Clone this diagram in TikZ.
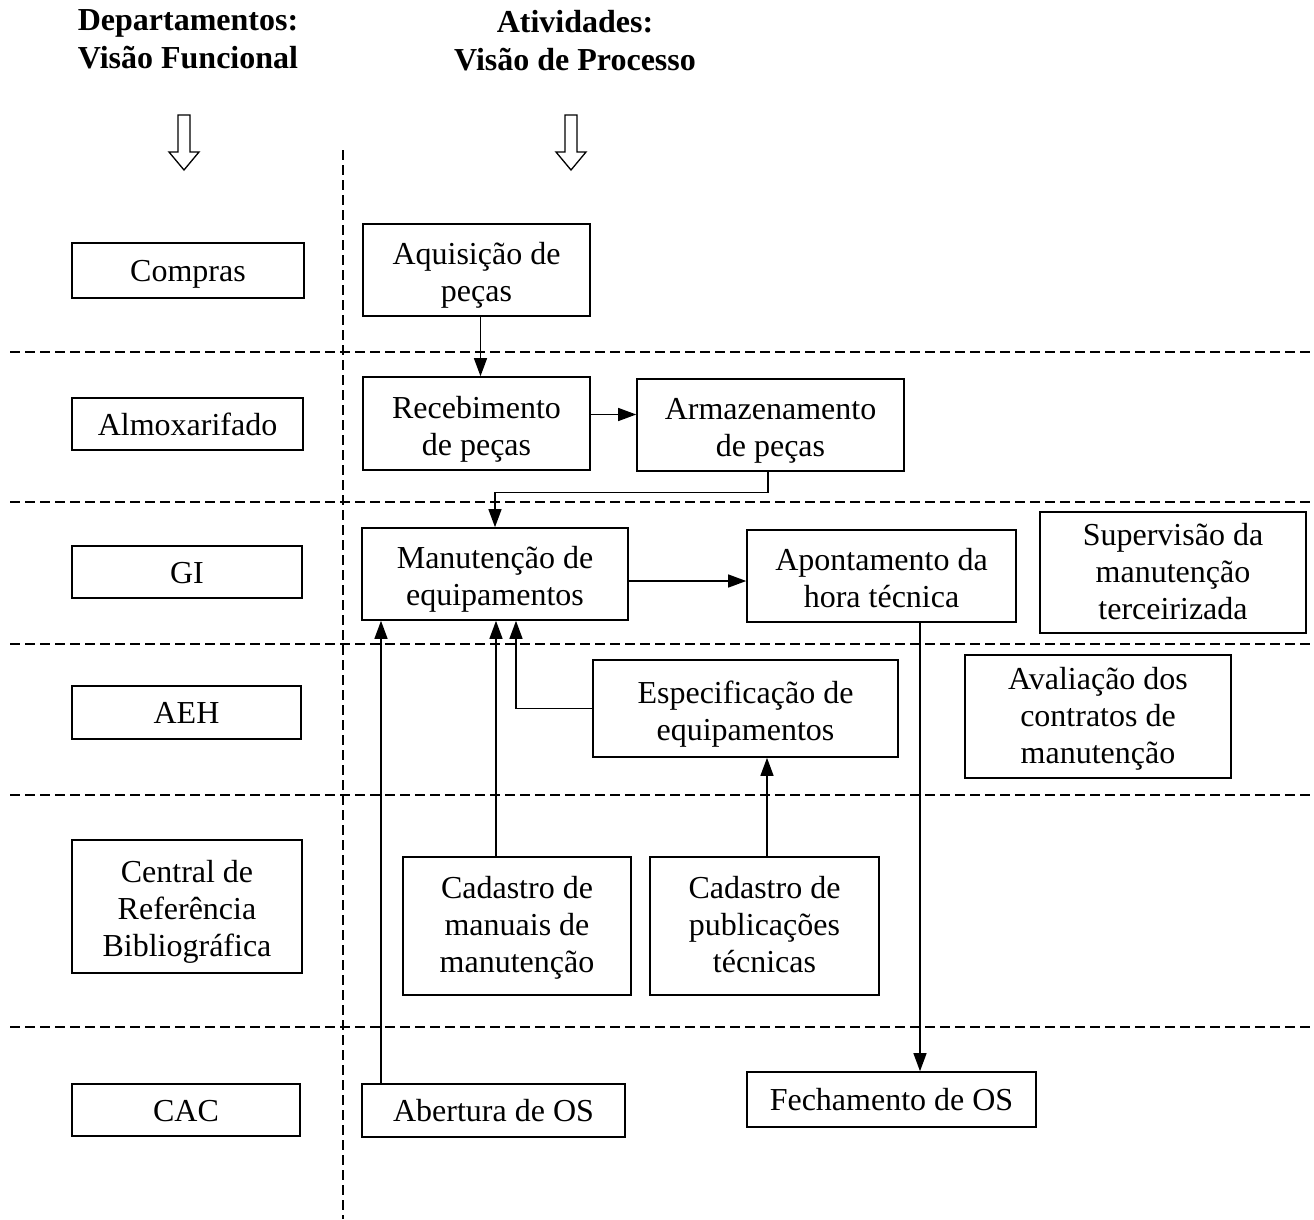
\documentclass[tikz,border=0pt]{standalone}
\usepackage{fontspec}
\setmainfont{Liberation Serif}
\usetikzlibrary{arrows.meta}
% invisible struts that fix the first line's height and the last line's depth
\newcommand\tstr[1][30pt]{\rule{0pt}{#1}}
\newcommand\bstr{\rule[-8pt]{0pt}{8pt}}
\begin{document}
\begin{tikzpicture}[x=1pt,y=-1pt,
  txt/.style={font=\fontsize{32}{37}\selectfont, align=center, inner sep=0pt},
  box/.style={txt, draw, line width=1.6pt},
  head/.style={font=\fontsize{32}{38}\selectfont\bfseries, align=center, inner sep=0pt},
  lane/.style={line width=1.3pt, dash pattern=on 10pt off 5pt},
  arr/.style={line width=1.3pt, -{Triangle[length=18pt,width=13pt]}},
  hollow/.style={line width=1.3pt, fill=white}]
\useasboundingbox (0,0) rectangle (1314,1219);

% column headings
\node[head] (hdep) at (188,39) {Departamentos:\\Visão Funcional};
\node[head] (hati) at (575,41) {Atividades:\\Visão de Processo};

% hollow arrows under the headings
\draw[hollow] (178,115) -- (190,115) -- (190,152) -- (199,152) -- (184,170)
  -- (169,152) -- (178,152) -- cycle;
\draw[hollow] (565,115) -- (577,115) -- (577,152) -- (586,152) -- (571,170)
  -- (556,152) -- (565,152) -- cycle;

% lane separators
\draw[lane] (343,150) -- (343,1219);
\foreach \y in {352,502,644,795,1027}
  \draw[lane] (10,\y) -- (1310,\y);

% departments
\node[box, minimum width=232, minimum height=55] (compras) at (188,270.5) {\tstr Compras\bstr};
\node[box, minimum width=231, minimum height=52] (almox) at (187.5,424) {\tstr Almoxarifado\bstr};
\node[box, minimum width=230, minimum height=52] (gi) at (187,572) {\tstr GI\bstr};
\node[box, minimum width=229, minimum height=53] (aeh) at (186.5,712.5) {\tstr AEH\bstr};
\node[box, minimum width=230, minimum height=133] (crb) at (187,906.5) {\tstr[34pt]Central de\\Referência\\Bibliográfica\bstr};
\node[box, minimum width=228, minimum height=52] (cac) at (186,1110) {\tstr CAC\bstr};

% activities
\node[box, minimum width=227, minimum height=92] (aq) at (476.5,270) {\tstr[34pt]Aquisição de\\peças\bstr};
\node[box, minimum width=227, minimum height=93] (rec) at (476.5,423.5) {\tstr[34pt]Recebimento\\de peças\bstr};
\node[box, minimum width=267, minimum height=92] (arm) at (770.5,425) {\tstr[34pt]Armazenamento\\de peças\bstr};
\node[box, minimum width=266, minimum height=92] (man) at (495,574) {\tstr[34pt]Manutenção de\\equipamentos\bstr};
\node[box, minimum width=269, minimum height=92] (apo) at (881.5,576) {\tstr[34pt]Apontamento da\\hora técnica\bstr};
\node[box, minimum width=266, minimum height=121] (sup) at (1173,572.5) {\tstr[28pt]Supervisão da\\manutenção\\terceirizada\bstr};
\node[box, minimum width=305, minimum height=97] (esp) at (745.5,708.5) {\tstr[34pt]Especificação de\\equipamentos\bstr};
\node[box, minimum width=266, minimum height=123] (aval) at (1098,716.5) {\tstr[28pt]Avaliação dos\\contratos de\\manutenção\bstr};
\node[box, minimum width=228, minimum height=138] (cm) at (517,926) {\tstr[27pt]Cadastro de\\manuais de\\manutenção\bstr};
\node[box, minimum width=229, minimum height=138] (cp) at (764.5,926) {\tstr[27pt]Cadastro de\\publicações\\técnicas\bstr};
\node[box, minimum width=263, minimum height=53] (ab) at (493.5,1110.5) {\tstr Abertura de OS\bstr};
\node[box, minimum width=289, minimum height=55] (fech) at (891.5,1099.5) {\tstr Fechamento de OS\bstr};

% flows
\draw[arr] ([xshift=4pt]aq.south) -- ([xshift=4pt]aq.south |- rec.north);
\draw[arr] ([yshift=9pt]rec.east) -- ([yshift=9pt]rec.east -| arm.west);
\draw[arr] ([xshift=-2.5pt]arm.south) -- ++(0,21) -| (man.north);
\draw[arr] ([yshift=-7pt]man.east) -- ([yshift=-7pt]man.east -| apo.west);
\draw[arr] ([xshift=38.5pt]apo.south) -- ([xshift=38.5pt]apo.south |- fech.north);
\draw[arr] ([xshift=-112.5pt]ab.north) -- ([xshift=-112.5pt]ab.north |- man.south);
\draw[arr] ([xshift=-21pt]cm.north) -- ([xshift=-21pt]cm.north |- man.south);
\draw[arr] (esp.west) -| ([xshift=21pt]man.south);
\draw[arr] ([xshift=2.5pt]cp.north) -- ([xshift=2.5pt]cp.north |- esp.south);
\end{tikzpicture}
\end{document}
